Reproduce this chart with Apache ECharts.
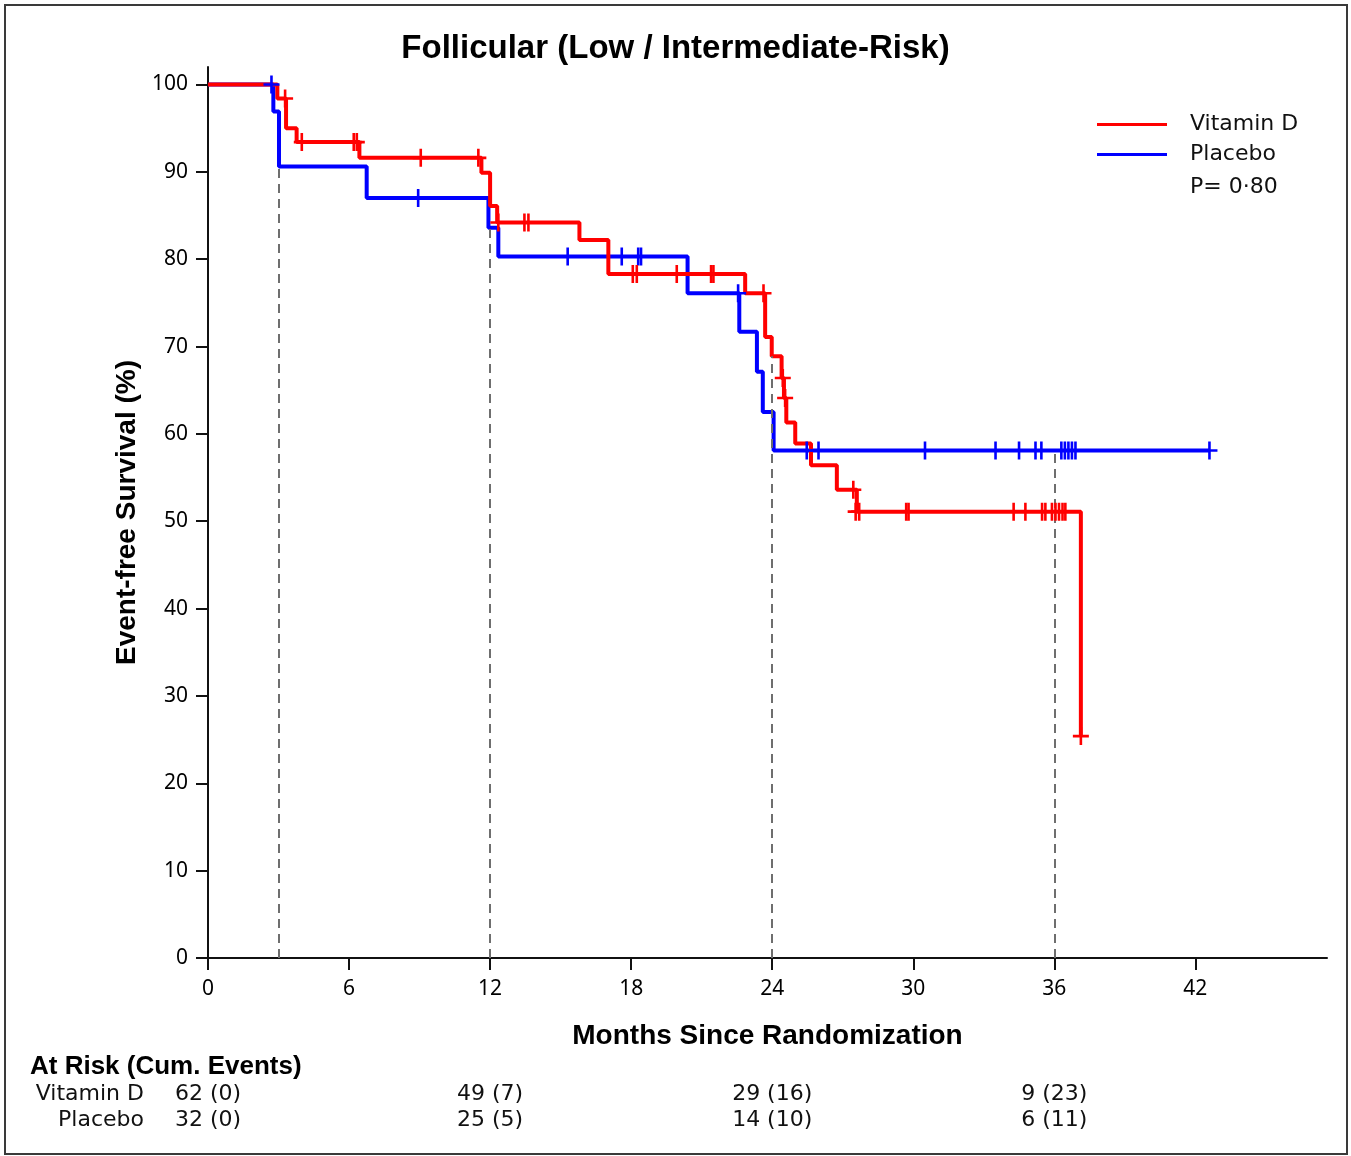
<!DOCTYPE html>
<html>
<head>
<meta charset="utf-8">
<script src="https://cdn.jsdelivr.net/npm/echarts@6/dist/echarts.min.js"></script>
<style>
html,body{margin:0;padding:0;background:#fff;}
#chart{width:1351px;height:1156px;}
</style>
</head>
<body>
<div id="chart"></div>
<script>
// ---- Data ----
const xTicks = [0, 6, 12, 18, 24, 30, 36, 42];
const yTicks = [0, 10, 20, 30, 40, 50, 60, 70, 80, 90, 100];

// Kaplan-Meier steps [month, survival % after step]
const vitDSteps = [[0,100],[2.95,98.4],[3.32,95.0],[3.77,93.4],[6.44,91.6],[11.63,89.9],[12.0,86.1],[12.3,84.2],[15.8,82.2],[17.03,78.3],[22.85,76.1],[23.7,71.1],[23.98,68.9],[24.4,66.4],[24.5,64.1],[24.6,61.3],[24.98,58.9],[25.65,56.4],[26.75,53.6],[27.6,51.1],[37.13,25.4]];
const placeboSteps = [[0,100],[2.78,96.9],[3.02,90.6],[6.75,87.0],[11.93,83.6],[12.35,80.3],[20.4,76.1],[22.6,71.7],[23.35,67.1],[23.6,62.5],[24.06,58.1],[42.6,58.1]];

// Censored observations [month, survival %]
const vitDCensored = [[3.28,98.4],[3.99,93.4],[6.2,93.4],[6.33,93.4],[9.05,91.6],[11.5,91.6],[12.35,84.2],[13.46,84.2],[13.63,84.2],[18.07,78.3],[18.24,78.3],[19.94,78.3],[21.4,78.3],[21.5,78.3],[23.63,76.1],[24.45,66.4],[24.55,64.1],[27.45,53.6],[27.55,51.1],[27.7,51.1],[29.7,51.1],[29.8,51.1],[34.27,51.1],[34.77,51.1],[35.48,51.1],[35.62,51.1],[35.9,51.1],[36.05,51.1],[36.2,51.1],[36.35,51.1],[36.47,51.1],[37.13,25.4]];
const placeboCensored = [[2.7,100],[8.94,87.0],[15.3,80.3],[17.6,80.3],[18.3,80.3],[18.42,80.3],[22.55,76.1],[25.47,58.1],[25.97,58.1],[30.5,58.1],[33.5,58.1],[34.5,58.1],[35.2,58.1],[35.45,58.1],[36.3,58.1],[36.45,58.1],[36.6,58.1],[36.75,58.1],[36.9,58.1],[42.6,58.1]];

// Reference (dashed) lines at landmark times
const landmarkTimes = [3, 12, 24, 36];
const landmarkTops = [90.6, 83.6, 68.9, 58.1];

// At-risk table
const riskGroups = ['Vitamin D', 'Placebo'];
const riskTimes = [0, 12, 24, 36];
const vitDAtRisk = [62, 49, 29, 9];
const vitDEvents = [0, 7, 16, 23];
const placeboAtRisk = [32, 25, 14, 6];
const placeboEvents = [0, 5, 10, 11];

const pValueText = 'P= 0·80';

// ---- Chart ----
const RED = '#ff0000', BLUE = '#0000ff';
const plus = 'path://M-1.3,-9 L1.3,-9 L1.3,-1.3 L8,-1.3 L8,1.3 L1.3,1.3 L1.3,9 L-1.3,9 L-1.3,1.3 L-8,1.3 L-8,-1.3 L-1.3,-1.3 Z';
const X_MAX = 47.6;

const riskData = [];
riskTimes.forEach((t, i) => {
  riskData.push({value: [t, riskGroups[0]], txt: vitDAtRisk[i] + ' (' + vitDEvents[i] + ')'});
  riskData.push({value: [t, riskGroups[1]], txt: placeboAtRisk[i] + ' (' + placeboEvents[i] + ')'});
});

const chart = echarts.init(document.getElementById('chart'), null, {renderer: 'canvas'});
chart.setOption({
  animation: false,
  backgroundColor: '#fff',
  title: {
    text: 'Follicular (Low / Intermediate-Risk)',
    left: 'center', top: 27,
    textStyle: {fontFamily: 'Liberation Sans', fontWeight: 'bold', fontSize: 33, color: '#000'}
  },
  legend: {
    orient: 'vertical', left: 1092, top: 107,
    itemWidth: 70, itemHeight: 3, itemGap: 5,
    icon: 'rect',
    data: ['Vitamin D', 'Placebo'],
    textStyle: {fontFamily: 'DejaVu Sans', fontSize: 22, color: '#111', lineHeight: 25, padding: [0,0,0,18]}
  },
  grid: [
    {left: 208, right: 24, top: 67, bottom: 198, containLabel: false, outerBoundsMode: 'none'},
    {left: 208, right: 24, top: 1081, height: 52, containLabel: false, outerBoundsMode: 'none'}
  ],
  xAxis: [
    {
      type: 'value', gridIndex: 0, min: 0, max: X_MAX, interval: 6,
      name: 'Months Since Randomization', nameLocation: 'middle', nameGap: 64,
      nameTextStyle: {fontFamily: 'Liberation Sans', fontWeight: 'bold', fontSize: 28, color: '#000'},
      axisLine: {show: true, lineStyle: {color: '#111', width: 2}},
      axisTick: {show: true, length: 12, lineStyle: {color: '#111', width: 2}, customValues: xTicks},
      axisLabel: {fontFamily: 'Noto Sans', fontSize: 21, color: '#000', margin: 21, customValues: xTicks},
      splitLine: {show: false}
    },
    {
      type: 'value', gridIndex: 1, min: 0, max: X_MAX, show: false
    }
  ],
  yAxis: [
    {
      type: 'value', gridIndex: 0, min: 0, max: 102, interval: 10,
      name: 'Event-free Survival (%)', nameLocation: 'middle', nameGap: 66,
      nameTextStyle: {fontFamily: 'Liberation Sans', fontWeight: 'bold', fontSize: 28, color: '#000'},
      axisLine: {show: true, lineStyle: {color: '#111', width: 2}},
      axisTick: {show: true, length: 12, lineStyle: {color: '#111', width: 2}, customValues: yTicks},
      axisLabel: {fontFamily: 'Noto Sans', fontSize: 21, color: '#000', margin: 20, customValues: yTicks},
      splitLine: {show: false}
    },
    {
      type: 'category', gridIndex: 1, data: riskGroups, inverse: true,
      axisLine: {show: false}, axisTick: {show: false}, splitLine: {show: false},
      axisLabel: {show: true, interval: 0, fontFamily: 'DejaVu Sans', fontSize: 22, color: '#111', margin: 64}
    }
  ],
  graphic: [
    {type: 'rect', shape: {x: 5, y: 5, width: 1342, height: 1149}, style: {fill: 'none', stroke: '#3a3a3a', lineWidth: 2}, silent: true},
    {type: 'text', left: 1190, top: 176, style: {text: pValueText, font: '22px "DejaVu Sans"', fill: '#111'}},
    {type: 'text', left: 30, top: 1054, style: {text: 'At Risk (Cum. Events)', font: 'bold 26px "Liberation Sans"', fill: '#000'}}
  ],
  series: [
    {
      name: 'landmarks', type: 'line', xAxisIndex: 0, yAxisIndex: 0, data: [], silent: true, z: 1,
      markLine: {
        silent: true, symbol: 'none', animation: false,
        label: {show: false},
        lineStyle: {color: '#6e6e6e', width: 2, type: [9, 6]},
        data: landmarkTimes.map((t, i) => [{coord: [t, 0]}, {coord: [t, landmarkTops[i]]}])
      }
    },
    {
      name: 'Placebo', type: 'line', step: 'end', data: placeboSteps, xAxisIndex: 0, yAxisIndex: 0,
      showSymbol: false, symbol: 'none', color: BLUE, lineStyle: {color: BLUE, width: 4}, z: 3
    },
    {
      name: 'Vitamin D', type: 'line', step: 'end', data: vitDSteps, xAxisIndex: 0, yAxisIndex: 0,
      showSymbol: false, symbol: 'none', color: RED, lineStyle: {color: RED, width: 4}, z: 4
    },
    {
      name: 'Placebo censored', type: 'scatter', data: placeboCensored, xAxisIndex: 0, yAxisIndex: 0,
      symbol: plus, symbolSize: [16, 18], itemStyle: {color: BLUE, opacity: 1}, z: 5
    },
    {
      name: 'Vitamin D censored', type: 'scatter', data: vitDCensored, xAxisIndex: 0, yAxisIndex: 0,
      symbol: plus, symbolSize: [16, 18], itemStyle: {color: RED, opacity: 1}, z: 6
    },
    {
      name: 'atrisk', type: 'scatter', xAxisIndex: 1, yAxisIndex: 1, data: riskData,
      symbolSize: 0, silent: true, itemStyle: {opacity: 1},
      label: {show: true, position: 'inside', formatter: p => p.data.txt,
        fontFamily: 'DejaVu Sans', fontSize: 22, color: '#111', textBorderWidth: 0, opacity: 1}
    }
  ]
});
</script>
</body>
</html>
